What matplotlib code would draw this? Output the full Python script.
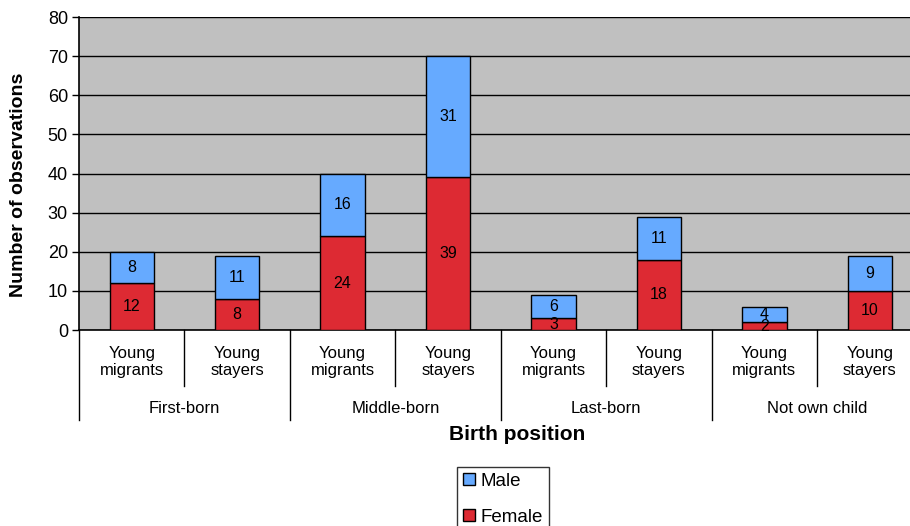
import numpy as np
import matplotlib.pyplot as plt
from matplotlib.transforms import blended_transform_factory
from matplotlib.patches import Patch

plt.rcParams['font.family'] = ['Liberation Sans', 'DejaVu Sans']

# Observations by birth position and migration status
groups = ['First-born', 'Middle-born', 'Last-born', 'Not own child']
subgroups = ['Young\nmigrants', 'Young\nstayers']
female = [12, 8, 24, 39, 3, 18, 2, 10]
male = [8, 11, 16, 31, 6, 11, 4, 9]

male_color = '#66aaff'
female_color = '#dd2a33'

fig = plt.figure(figsize=(9.1, 5.26), dpi=100)
ax = fig.add_axes([0.0868, 0.3726, 0.927, 0.595])
ax.set_facecolor('#c0c0c0')

n = len(female)
x = np.arange(n) + 0.5
w = 0.42
ax.bar(x, female, width=w, color=female_color, edgecolor='black', linewidth=1, zorder=3)
ax.bar(x, male, width=w, bottom=female, color=male_color, edgecolor='black', linewidth=1, zorder=3)

for xi, f, m in zip(x, female, male):
    ax.text(xi, f / 2, str(f), ha='center', va='center', fontsize=11.5, zorder=4)
    ax.text(xi, f + m / 2, str(m), ha='center', va='center', fontsize=11.5, zorder=4)

ax.set_xlim(0, n)
ax.set_ylim(0, 80)
ax.set_yticks(range(0, 81, 10))
ax.tick_params(axis='y', labelsize=13, length=5, width=1, direction='out', pad=3)
ax.set_xticks([])
ax.yaxis.grid(True, color='black', linewidth=1)
ax.set_axisbelow(True)
for side in ['top', 'right']:
    ax.spines[side].set_visible(False)
ax.spines['left'].set_linewidth(1.2)
ax.spines['bottom'].set_linewidth(1.2)

ax.set_ylabel('Number of observations', fontsize=14, fontweight='bold')
ax.yaxis.set_label_coords(-0.062, 0.463)

# hierarchical category axis under the plot
tr = blended_transform_factory(ax.transData, ax.transAxes)
for i in range(n + 1):
    bottom = -0.288 if i % 2 == 0 else -0.179
    ax.plot([i, i], [0, bottom], color='black', linewidth=1, transform=tr, clip_on=False)
for i in range(n):
    ax.text(i + 0.5, -0.103, subgroups[i % 2], ha='center', va='center', fontsize=12,
            linespacing=1.2, transform=tr)
for g, name in enumerate(groups):
    ax.text(2 * g + 1, -0.25, name, ha='center', va='center', fontsize=12, transform=tr)

fig.text(517 / 910, 1 - 435 / 526, 'Birth position', ha='center', va='center',
         fontsize=15, fontweight='bold')

handles = [Patch(facecolor=male_color, edgecolor='black', label='Male'),
           Patch(facecolor=female_color, edgecolor='black', label='Female')]
fig.legend(handles=handles, loc='upper center', bbox_to_anchor=(503 / 910, 1 - 467 / 526),
           fontsize=13.5, frameon=True, fancybox=False, edgecolor='black',
           handlelength=0.6, handleheight=0.6, handletextpad=0.3, labelspacing=1.0,
           borderpad=0.32, borderaxespad=0)

plt.savefig('out.png', dpi=100)
